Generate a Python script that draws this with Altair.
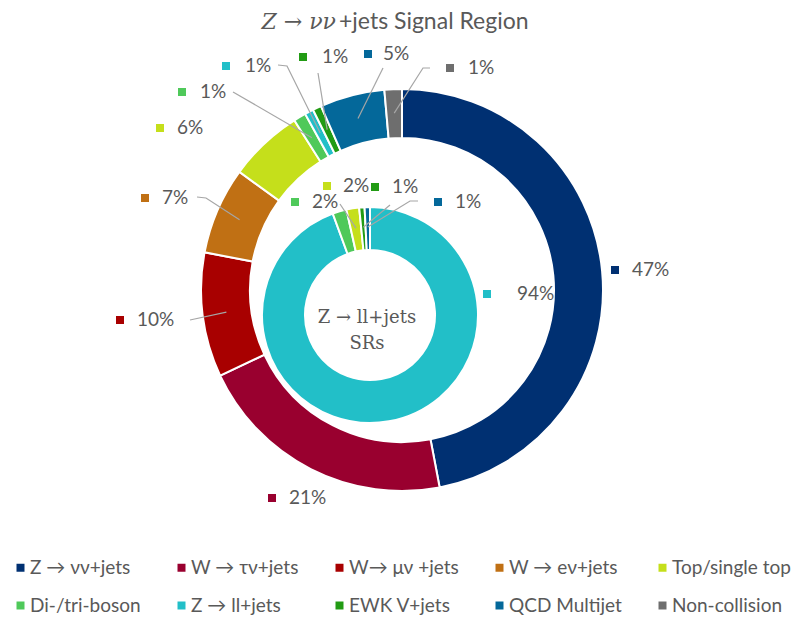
import math
import altair as alt
import pandas as pd

# ---------------- data ----------------
CATEGORIES = ["Z → νν+jets", "W → τν+jets", "W→ μν +jets", "W → eν+jets", "Top/single top",
              "Di-/tri-boson", "Z → ll+jets", "EWK V+jets", "QCD Multijet", "Non-collision"]
COLORS = ["#003072", "#99002F", "#A80000", "#C07014", "#C5DF1B",
          "#4FC95A", "#22BFC8", "#229B14", "#04689A", "#6E6E6E"]

OUTER_CATS = CATEGORIES
OUTER_VALUES = [47.0, 21.0, 10.0, 7.0, 6.0, 1.0, 0.7, 0.7, 5.2, 1.4]

INNER_CATS = ["Z → ll+jets", "Di-/tri-boson", "Top/single top", "EWK V+jets", "QCD Multijet"]
INNER_VALUES = [94.4, 2.1, 1.9, 0.8, 0.8]

TITLE_MATH = "Z → νν"
TITLE_REST = "+jets Signal Region"
CENTER_LINES = ["Z → ll+jets", "SRs"]

# ---------------- layout (page pixels) ----------------
M = 8
W, H = 787, 607
TEXT_COLOR = "#595959"
LEAD_COLOR = "#A6A6A6"
SANS = "Lato"
SERIF = "DejaVu Serif"

OUTER = dict(cx=402, cy=290, r=201, r2=152, rlead=177)
INNER = dict(cx=370, cy=315, r=108, r2=65, rlead=88)

# category: (square x, square y, gap to text, leader points from label side)
OUTER_LABELS = {
    "Z → νν+jets": (615, 270, 17, []),
    "W → τν+jets": (272, 498, 17, []),
    "W→ μν +jets": (120, 320, 17, [(190, 320)]),
    "W → eν+jets": (145, 198, 17, [(197, 197), (206, 198)]),
    "Top/single top": (160, 128, 17, []),
    "Di-/tri-boson": (182, 92, 18, [(233, 92)]),
    "Z → ll+jets": (226, 66, 19, [(278, 65), (287, 66)]),
    "EWK V+jets": (303, 57, 19, [(318, 73)]),
    "QCD Multijet": (368, 54, 15, [(383, 68)]),
    "Non-collision": (450, 68, 18, [(430, 68), (423, 68)]),
}
INNER_LABELS = {
    "Z → ll+jets": (487, 294, 30, []),
    "Di-/tri-boson": (295, 202, 17, []),
    "Top/single top": (327, 186, 16, [(340, 204)]),
    "EWK V+jets": (375, 187, 17, [(390, 205)]),
    "QCD Multijet": (438, 202, 17, [(418, 201), (410, 201)]),
}

legend = alt.Legend(
    title=None, orient="none", legendX=3, legendY=550, direction="horizontal",
    columns=5, symbolType="square", symbolSize=64, symbolStrokeWidth=0,
    labelFont=SANS, labelFontSize=19, labelColor=TEXT_COLOR, labelOffset=0,
    gridAlign="each", columnPadding=31, rowPadding=18, labelLimit=300,
)
color_enc = alt.Color("cat:N", scale=alt.Scale(domain=CATEGORIES, range=COLORS), legend=legend)


def ring_frames(cats, vals, geo, label_layout, ring_id):
    total = sum(vals)
    ring = pd.DataFrame({"cat": cats, "value": vals, "idx": list(range(len(cats)))})
    labels, leads = [], []
    cum = 0.0
    for i, (c, v) in enumerate(zip(cats, vals)):
        mid = 2 * math.pi * (cum + v / 2) / total
        cum += v
        sx, sy, gap, pts = label_layout[c]
        labels.append({"cat": c, "sx": sx - M, "sy": sy - M, "tx": sx + gap - M,
                       "label": f"{round(v):.0f}%"})
        if pts:
            px = geo["cx"] + geo["rlead"] * math.sin(mid)
            py = geo["cy"] - geo["rlead"] * math.cos(mid)
            for j, (x, y) in enumerate(list(pts) + [(px, py)]):
                leads.append({"lid": f"{ring_id}{i}", "o": j, "x": x - M, "y": y - M})
    return ring, pd.DataFrame(labels), pd.DataFrame(leads)


def ring_layers(cats, vals, geo, label_layout, ring_id):
    ring, labels, leads = ring_frames(cats, vals, geo, label_layout, ring_id)
    arcs = alt.Chart(ring).mark_arc(
        radius=geo["r"], radius2=geo["r2"], stroke="white", strokeWidth=2
    ).encode(
        theta=alt.Theta("value:Q", stack=True),
        order=alt.Order("idx:Q"),
        color=color_enc,
        x=alt.value(geo["cx"] - M),
        y=alt.value(geo["cy"] - M),
    )
    lines = alt.Chart(leads).mark_line(color=LEAD_COLOR, strokeWidth=1.2).encode(
        x=alt.X("x:Q", scale=None, axis=None),
        y=alt.Y("y:Q", scale=None, axis=None),
        detail="lid:N",
        order="o:Q",
    )
    squares = alt.Chart(labels).mark_square(size=64, opacity=1, filled=True).encode(
        x=alt.X("sx:Q", scale=None, axis=None),
        y=alt.Y("sy:Q", scale=None, axis=None),
        color=color_enc,
    )
    texts = alt.Chart(labels).mark_text(
        align="left", baseline="middle", font=SANS, fontSize=19, color=TEXT_COLOR
    ).encode(
        x=alt.X("tx:Q", scale=None, axis=None),
        y=alt.Y("sy:Q", scale=None, axis=None),
        text="label:N",
    )
    return [arcs, lines, squares, texts]


def text_layer(txt, x, y, font, size, align="center", style="normal"):
    return alt.Chart(pd.DataFrame({"t": [txt]})).mark_text(
        font=font, fontSize=size, fontStyle=style, align=align, baseline="middle",
        color=TEXT_COLOR
    ).encode(text="t:N", x=alt.value(x - M), y=alt.value(y - M))


layers = []
layers += ring_layers(OUTER_CATS, OUTER_VALUES, OUTER, OUTER_LABELS, "o")
layers += ring_layers(INNER_CATS, INNER_VALUES, INNER, INNER_LABELS, "i")
layers += [
    text_layer(TITLE_MATH, 336, 22, SERIF, 22, align="right", style="italic"),
    text_layer(TITLE_REST, 339, 22, SANS, 23, align="left"),
    text_layer(CENTER_LINES[0], 367, 318, SERIF, 18),
    text_layer(CENTER_LINES[1], 367, 344, SERIF, 18),
]

chart = alt.layer(*layers).resolve_scale(theta="independent").properties(
    width=W, height=H, padding=0, autosize=alt.AutoSizeParams(type="none"),
    background="white",
).configure_view(stroke=None)

chart.save("out.html", embed_options={"renderer": "svg", "actions": False})
